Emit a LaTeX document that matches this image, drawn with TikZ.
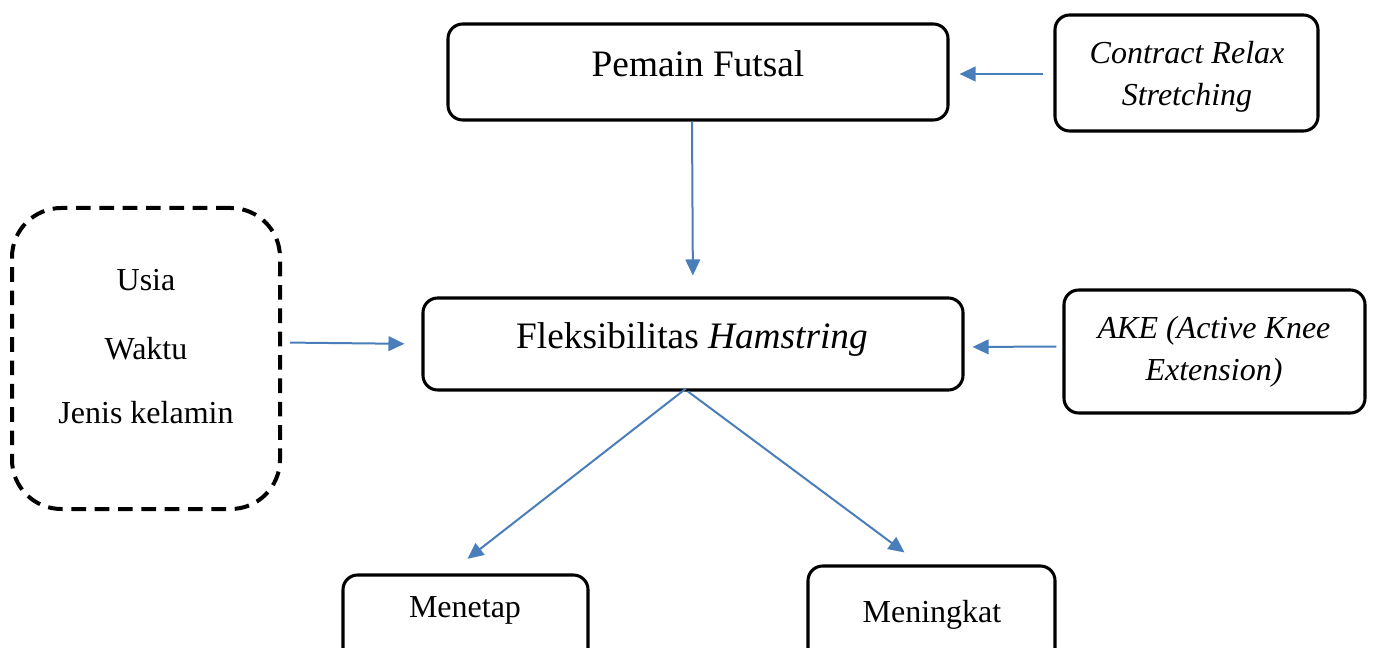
\documentclass[tikz,border=0pt]{standalone}
\usepackage{fontspec}
\setmainfont{Liberation Serif}
\usetikzlibrary{arrows.meta}
\definecolor{arrblue}{HTML}{4A7EBB}
\tikzset{
  box/.style={draw=black, line width=2.3pt, rounded corners=11pt, rectangle, inner sep=0pt, fill=white},
  dbox/.style={draw=black, line width=3pt, rounded corners=37pt, rectangle, inner sep=0pt, dash pattern=on 11pt off 6.5pt},
  big/.style={font=\fontsize{28}{32}\selectfont, inner sep=0pt},
  small/.style={font=\fontsize{24}{31.5}\selectfont, inner sep=0pt, align=center},
  arr/.style={draw=arrblue, line width=1.5pt, -{Triangle[length=12pt,width=11pt]}}
}
\begin{document}
\begin{tikzpicture}[x=0.75pt,y=-0.75pt]
\clip (0,0) rectangle (1374,648);
\fill[white] (0,0) rectangle (1374,648);
% boxes
\node[box, minimum width=375pt, minimum height=72pt] (pf) at (698,72) {};
\node[big] (pft) at (698,64) {Pemain Futsal};
\node[box, minimum width=197.25pt, minimum height=87pt] (cr) at (1186.5,73) {};
\node[small] (crt) at (1187,77) {\itshape Contract Relax\\\itshape Stretching};
\node[box, minimum width=405pt, minimum height=69pt] (fl) at (693,344) {};
\node[big] (flt) at (692,340) {Fleksibilitas \textit{Hamstring}};
\node[box, minimum width=225.75pt, minimum height=92.25pt] (ake) at (1214.5,351.5) {};
\node[small] (aket) at (1214,352) {\itshape AKE (Active Knee\\\itshape Extension)};
\node[dbox, minimum width=201pt, minimum height=225.75pt] (ds) at (146,358.5) {};
\node[small] (u1) at (146,280) {Usia};
\node[small] (u2) at (146,349) {Waktu};
\node[small] (u3) at (146,413) {Jenis kelamin};
\node[box, minimum width=183.75pt, minimum height=78.75pt] (me) at (465.5,627.5) {};
\node[small] (met) at (465,610) {Menetap};
\node[box, minimum width=185.25pt, minimum height=85.5pt] (mg) at (931.5,623) {};
\node[small] (mgt) at (932,615) {Meningkat};
% arrows
\draw[arr, shorten <=7.5pt, shorten >=7.5pt] ([yshift=-0.75pt]cr.west) -- ([yshift=-1.5pt]pf.east);
\draw[arr, shorten >=15.75pt] ([xshift=-4.5pt]pf.south) -- (fl.north);
\draw[arr, shorten <=6pt, shorten >=12.75pt] ([yshift=12pt]ds.east) -- (fl.west);
\draw[arr, shorten <=4.5pt, shorten >=6pt] ([yshift=3.75pt]ake.west) -- ([yshift=-2.25pt]fl.east);
\draw[arr] ([xshift=-5.25pt,yshift=2.25pt]fl.south) -- ([xshift=1.5pt,yshift=11pt]me.north);
\draw[arr] ([xshift=-3.75pt]fl.south) -- ([xshift=-20.25pt,yshift=9pt]mg.north);
\end{tikzpicture}
\end{document}
